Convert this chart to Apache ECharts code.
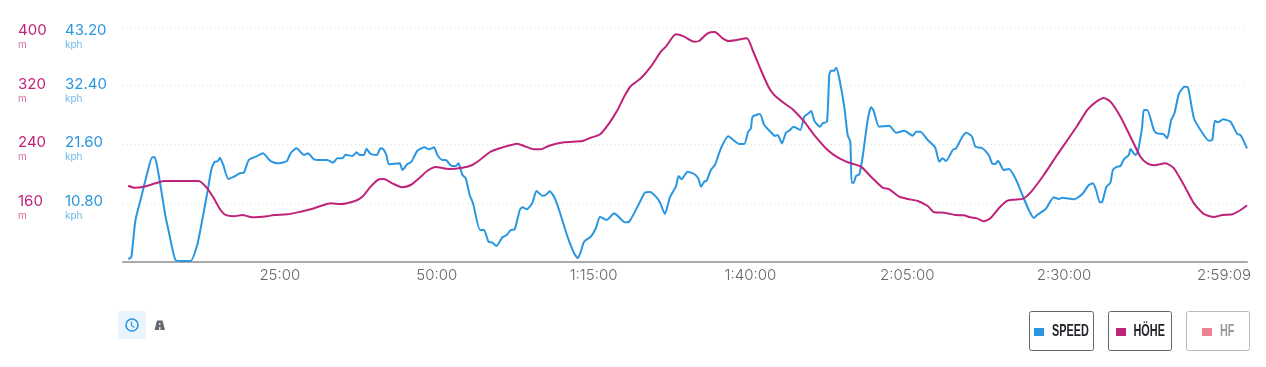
<!DOCTYPE html>
<html>
<head>
<meta charset="utf-8">
<style>
    html, body { margin: 0; padding: 0; background: #fff; }
    #chart { width: 1266px; height: 367px; }
</style>
<script src="https://cdn.jsdelivr.net/npm/echarts@6/dist/echarts.min.js"></script>
</head>
<body>
<div id="chart"></div>
<script>
// minutes since start
var speedTimes = [0.83,1.31,1.63,1.99,2.79,3.86,4.66,5.07,5.55,6.09,6.78,7.30,7.85,8.37,9.17,10.77,11.83,12.63,13.43,14.07,14.64,15.12,15.44,15.98,16.78,17.67,18.63,19.27,20.06,21.40,22.30,23.52,24.59,26.08,26.71,27.67,28.84,29.47,30.43,31.39,32.57,33.46,34.16,34.96,35.49,36.55,37.24,37.72,38.41,38.79,39.47,40.43,41.07,41.50,41.98,42.39,44.10,44.53,45.33,45.96,46.92,48.09,48.77,49.57,50.11,50.91,51.44,52.23,53.03,53.46,54.10,54.63,55.26,55.79,56.91,57.54,58.25,58.88,59.52,60.48,61.16,61.80,62.44,63.24,63.67,64.35,65.26,65.90,66.86,67.38,68.02,68.71,69.51,70.85,71.90,72.49,72.97,73.49,74.56,75.36,76.04,77.07,78.28,79.07,79.98,80.67,81.74,82.54,83.17,84.02,84.93,85.61,86.36,87.21,88.12,88.55,89.03,89.98,91.04,91.67,92.15,92.63,93.01,93.70,94.34,95.30,96.46,98.21,99.01,99.65,100.08,100.35,101.52,102.20,103.54,103.91,104.34,105.02,105.66,106.19,106.89,107.94,108.58,109.12,109.70,110.18,111.08,111.51,112.20,112.57,112.84,113.36,113.68,114.16,114.96,115.50,115.92,116.14,116.46,116.83,117.35,117.89,118.69,119.22,119.59,120.54,122.14,123.21,124.53,125.87,126.40,127.09,128.26,129.43,130.11,130.65,131.18,132.25,132.77,133.73,134.42,135.33,135.85,136.92,137.99,138.52,139.04,139.47,140.38,141.18,142.23,143.46,144.37,145.17,145.69,147.02,148.36,149.16,149.68,151.55,152.87,153.94,154.58,155.10,155.69,156.06,156.75,157.38,157.77,158.45,158.98,159.52,160.32,160.57,161.37,161.75,162.44,162.71,163.24,164.31,164.83,165.90,166.43,167.06,167.59,168.29,169.19,169.73,170.14,170.69,171.74,173.08,173.61,174.03,174.51,175.36,176.52,177.59,178.12,179.15];
var speedValues = [0.46,0.77,3.96,7.64,11.33,16.25,19.19,19.19,16.85,13.17,8.25,5.49,2.43,0.28,0.1,0.1,3.04,7.64,12.62,16.85,18.38,18.46,19.12,17.78,15.2,15.62,16.25,16.36,18.7,19.43,19.93,18.51,18.09,18.46,19.93,20.85,19.62,19.93,18.83,18.7,18.7,18.2,19.01,19.01,19.67,19.43,20.11,19.62,19.62,20.78,19.8,19.62,20.85,20.67,19.62,17.9,18.09,16.85,17.96,18.38,20.41,21.04,20.67,21.04,19.62,18.7,18.7,17.72,17.59,18.09,15.93,15.33,12.25,10.72,5.8,5.8,3.65,3.46,2.86,4.46,4.88,5.8,5.93,9.49,9.98,9.62,10.83,12.99,12.12,12.25,12.93,11.94,9.49,4.57,1.51,0.64,1.81,3.65,4.57,6.12,8.25,7.64,8.88,8.14,7.22,7.33,9.49,11.33,12.67,12.8,11.94,10.83,8.75,11.94,13.78,15.75,15.14,16.54,16.12,15.33,13.78,14.7,14.88,16.85,17.78,20.85,23.06,21.64,21.64,23.91,24.54,26.67,27.17,25.14,23.49,23.12,23.3,21.77,23.73,24.09,24.83,24.22,26.67,27.17,27.72,25.94,24.83,25.46,25.75,34.35,35.15,35.15,35.7,33.75,28.51,23.3,22.07,14.51,14.51,15.75,16.06,19.3,26.06,28.4,27.91,24.83,25.01,23.73,24.09,23.17,23.91,23.91,22.38,21.04,18.38,19.01,18.51,20.54,20.85,22.88,23.73,22.99,21.15,20.91,19.62,18.09,17.96,18.57,16.85,17.04,15.33,11.94,9.49,8.01,8.57,9.62,11.83,11.51,11.75,11.46,12.38,14.09,14.4,13.17,10.9,10.96,13.78,14.51,16.85,17.46,17.59,18.83,19.62,20.72,19.62,20.23,24.83,27.91,27.91,24.22,23.61,23.43,22.69,26.06,27.3,30.85,32.2,32.09,29.75,26.38,24.22,22.25,22.38,25.94,25.64,26.19,25.75,23.49,23.3,20.85];

var heightTimes = [0.83,1.83,3.32,5.18,6.51,12.09,13.43,14.48,15.55,16.35,17.67,19.01,20.61,23.0,24.05,26.19,28.31,29.9,31.5,33.09,34.69,37.08,38.15,39.47,40.8,41.59,42.93,44.53,45.85,47.18,48.52,49.84,51.96,54.1,55.69,57.02,58.61,60.21,62.87,63.92,65.52,66.59,67.91,70.3,73.24,74.56,76.04,77.48,78.82,79.87,80.94,82.54,84.13,85.72,86.52,88.12,89.44,91.04,91.83,93.17,94.34,95.57,96.62,99.44,100.35,101.67,103.0,103.8,105.39,106.73,108.58,110.18,112.31,113.91,115.76,117.62,119.22,121.08,122.14,123.73,125.07,126.67,128.26,129.31,130.91,132.66,134.0,135.06,136.12,137.19,138.25,139.59,140.91,141.98,143.46,144.63,146.76,148.88,152.07,153.67,154.99,156.33,157.38,158.98,160.57,162.17,163.24,164.31,166.16,167.5,169.09,170.69,172.28,173.88,175.2,176.79,178.12,179.15];
var heightValues = [183.4,180.7,182.1,186.7,189.9,189.9,179.9,166.2,150.3,143.5,141.7,143.5,140.3,141.7,143.5,144.4,148,151.2,155.7,159.4,158.5,163,168.4,182.1,192.2,192.6,186.7,181.3,184.4,193.5,203.9,209,206.2,208,211.7,219.5,229.8,234.9,240.8,237.6,233.1,233.1,238,242.7,244.4,248.9,253.6,268.6,286.7,304.9,319.5,330,345.8,366.3,373.1,390,386.8,380,380.9,391.4,393.2,384.6,380.9,384.6,368.6,341.3,316.3,307.2,295.9,287.7,270.8,252.6,232.2,222.2,214.8,209.4,195.7,180.7,178.5,168.4,165.3,162.6,155.7,147.1,146.6,143.5,143,140.3,138.9,134.9,138.9,152.6,162.6,164.3,165.7,173.9,198,225.3,264.9,286.7,297.2,303.1,298.1,277.6,250.3,223,214,211.3,214,207.2,184.4,159.4,144.8,140.7,143.5,144.4,150.3,156.7];

var xTickValues = [25, 50, 75, 100, 125, 150, 179.15];
var xTickLabels = ['25:00', '50:00', '1:15:00', '1:40:00', '2:05:00', '2:30:00', '2:59:09'];
var legendNames = ['SPEED', 'HÖHE', 'HF'];

var BLUE = '#2a96e0', PINK = '#bf2379', ROSE = '#ea8493';
var FONT = 'Inter';

function pairs(xs, ys) {
    return xs.map(function (x, i) { return [x, ys[i]]; });
}

// boxes around the legend entries
function legendBox(x, w, color) {
    return { type: 'rect', shape: { x: x + 0.5, y: 311.5, width: w, height: 39, r: 2 },
        style: { fill: 'none', stroke: color, lineWidth: 1 } };
}

// legend only draws the swatch, the narrow caption comes from legendText
function legendItem(name, left, color) {
    return {
        left: left, top: 328, padding: 0, icon: 'rect', itemWidth: 10, itemHeight: 8, itemGap: 0,
        data: [{ name: name, itemStyle: { color: color } }],
        formatter: function () { return ''; }
    };
}

// no condensed font installed, so squeeze a bold one
function legendText(text, x, color) {
    return { type: 'text', x: x, y: 331, scaleX: 0.64, originX: 0,
        style: { text: text, fill: color, font: 'bold 17px "Liberation Sans"', verticalAlign: 'middle' } };
}

// top tick gets a spacer line so its block sits lower, like the original
function yLabel(v, top, text, unit) {
    return (v === top ? '{s| }\n' : '') + '{v|' + text + '}\n{u|' + unit + '}';
}

var chart = echarts.init(document.getElementById('chart'), null, { renderer: 'canvas' });

chart.setOption({
    animation: false,
    backgroundColor: '#fff',
    textStyle: { fontFamily: FONT },
    tooltip: { show: false },
    grid: { left: 123, right: 19, top: 27, bottom: 105.5, outerBoundsMode: 'none' },
    legend: [
        legendItem(legendNames[0], 1034, BLUE),
        legendItem(legendNames[1], 1116, PINK),
        legendItem(legendNames[2], 1202, ROSE)
    ],
    xAxis: {
        type: 'value', min: 0, max: 179.15,
        splitLine: { show: false },
        axisTick: { show: false },
        axisLine: { lineStyle: { color: '#aaa', width: 2 } },
        axisLabel: {
            customValues: xTickValues,
            alignMaxLabel: 'right',
            color: '#666', fontSize: 15, fontFamily: FONT, fontWeight: 300, margin: 6,
            formatter: function (v) {
                var s = xTickLabels[xTickValues.indexOf(v)] || '';
                return v === 179.15 ? '{e|' + s + '}' : s;
            },
            rich: { e: { color: '#666', fontSize: 15, fontFamily: FONT, fontWeight: 300, padding: [0, -4, 0, 0] } }
        }
    },
    yAxis: [
        {
            type: 'value', position: 'left', min: 0, max: 43.2, interval: 10.8,
            axisLine: { show: false }, axisTick: { show: false },
            splitLine: { show: true, lineStyle: { color: '#ddd', type: [1, 3], width: 1 } },
            axisLabel: {
                align: 'left', margin: 58, showMinLabel: false, padding: [11.5, 0, 0, 0],
                formatter: function (v) { return yLabel(Math.round(v * 100) / 100, 43.2, v.toFixed(2), 'kph'); },
                rich: {
                    s: { fontSize: 8, lineHeight: 9 },
                    v: { color: BLUE, fontSize: 15, lineHeight: 14.5, fontFamily: FONT },
                    u: { color: '#6fb8ea', fontSize: 10, lineHeight: 14.5, fontFamily: FONT }
                }
            }
        },
        {
            type: 'value', position: 'left', min: 80, max: 400, interval: 80,
            axisLine: { show: false }, axisTick: { show: false },
            splitLine: { show: false },
            axisLabel: {
                align: 'left', margin: 105, showMinLabel: false, padding: [11.5, 0, 0, 0],
                formatter: function (v) { return yLabel(v, 400, String(v), 'm'); },
                rich: {
                    s: { fontSize: 8, lineHeight: 9 },
                    v: { color: PINK, fontSize: 15, lineHeight: 14.5, fontFamily: FONT },
                    u: { color: '#d56ba6', fontSize: 10, lineHeight: 14.5, fontFamily: FONT }
                }
            }
        }
    ],
    series: [
        { name: 'SPEED', type: 'line', yAxisIndex: 0, showSymbol: false, smooth: 0.2, clip: false,
          lineStyle: { color: BLUE, width: 2 }, itemStyle: { color: BLUE },
          data: pairs(speedTimes, speedValues) },
        { name: 'HÖHE', type: 'line', yAxisIndex: 1, showSymbol: false, smooth: 0.2,
          lineStyle: { color: PINK, width: 2 }, itemStyle: { color: PINK },
          data: pairs(heightTimes, heightValues) },
        { name: 'HF', type: 'line', yAxisIndex: 0, showSymbol: false,
          lineStyle: { color: ROSE, width: 2 }, itemStyle: { color: ROSE },
          data: [] }
    ],
    graphic: [
        legendBox(1029, 64, '#666'),
        legendBox(1108, 63, '#666'),
        legendBox(1186, 63, '#bbb'),
        legendText(legendNames[0], 1052, '#23262b'),
        legendText(legendNames[1], 1133.5, '#23262b'),
        legendText(legendNames[2], 1220, '#999'),
        // clock toggle
        { type: 'rect', shape: { x: 118, y: 311, width: 28, height: 28 }, style: { fill: '#eaf4fc' } },
        { type: 'circle', shape: { cx: 132, cy: 325, r: 6 }, style: { fill: 'none', stroke: BLUE, lineWidth: 1.5 } },
        { type: 'polyline', shape: { points: [[131.5, 321.5], [131.5, 325.5], [134.5, 327.5]] },
          style: { fill: 'none', stroke: BLUE, lineWidth: 1.2 } },
        // road toggle
        { type: 'polygon', shape: { points: [[157, 320.5], [162.5, 320.5], [165, 330], [154.5, 330]] }, style: { fill: '#666a70' } },
        { type: 'rect', shape: { x: 159.2, y: 323, width: 1.2, height: 2 }, style: { fill: '#fff' } },
        { type: 'rect', shape: { x: 159.2, y: 327, width: 1.2, height: 3 }, style: { fill: '#fff' } }
    ]
});
</script>
</body>
</html>
